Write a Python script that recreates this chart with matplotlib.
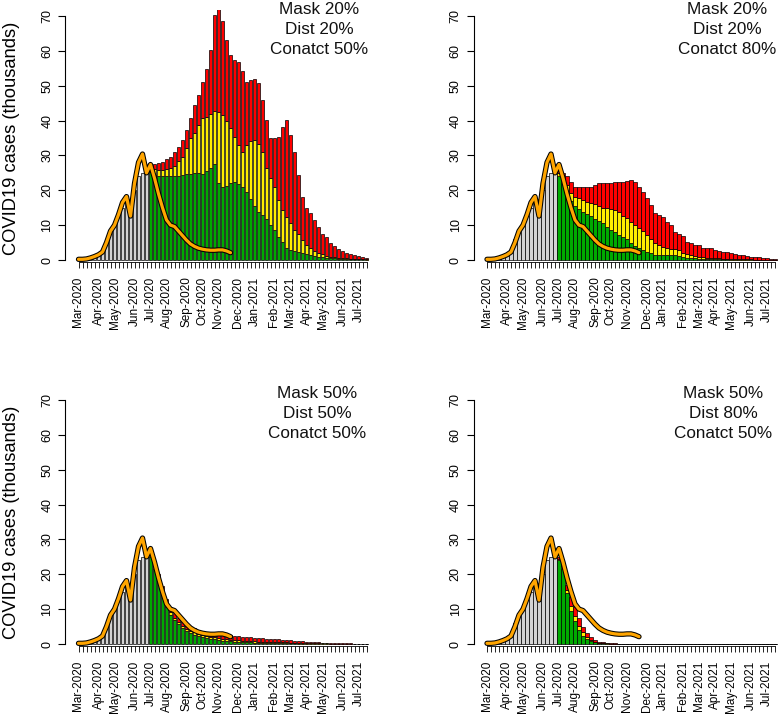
import matplotlib.pyplot as plt
import matplotlib.patheffects as pe
from matplotlib.patches import Rectangle
import pandas as pd

plt.rcParams['font.family'] = ['Liberation Sans', 'DejaVu Sans']

W, H = 778, 719

# weekly bars, Mar 2020 - Jul 2021
weeks = pd.date_range('2020-03-01', periods=73, freq='7D')
month_labels = ['Mar-2020', 'Apr-2020', 'May-2020', 'Jun-2020', 'Jul-2020', 'Aug-2020',
                'Sep-2020', 'Oct-2020', 'Nov-2020', 'Dec-2020', 'Jan-2021', 'Feb-2021',
                'Mar-2021', 'Apr-2021', 'May-2021', 'Jun-2021', 'Jul-2021']

# observed cases before the scenarios start (thousands)
observed = [0.1, 0.15, 0.2, 0.4, 0.8, 1.3, 2.5, 6.0, 8.0, 10.0, 12.5, 15.0, 16.5, 14.0,
            20.0, 24.0, 25.0, 25.0]

# orange line (reported cases)
reported = [0.2, 0.2, 0.3, 0.6, 1.0, 1.5, 2.3, 5.0, 8.3, 10.0, 13.0, 16.5, 18.2, 12.6,
            22.0, 28.0, 30.4, 25.0, 27.4, 23.5, 19.0, 15.0, 11.5, 10.0, 9.6, 8.3, 7.0,
            5.7, 4.6, 3.9, 3.4, 3.1, 2.9, 2.8, 2.8, 2.9, 2.9, 2.6, 2.1]

# scenario projections from Jul 2020: cumulative tops of green, yellow, red
tl_total = [27.5, 27.5, 27.8, 28.2, 28.9, 29.6, 31.0, 32.5, 34.4, 37.3, 40.6, 44.5, 47.4,
            51.0, 54.7, 60.2, 70.3, 71.9, 68.7, 63.1, 58.8, 57.4, 56.9, 54.3, 51.2, 51.6,
            51.9, 50.7, 45.9, 40.2, 34.9, 35.1, 35.4, 38.2, 40.3, 36.0, 31.0, 24.5, 18.0,
            15.0, 13.5, 11.5, 9.6, 7.5, 6.5, 4.8, 4.0, 3.2, 2.5, 2.0, 1.7, 1.4, 1.1, 0.9, 0.7]
tl_yellow = [26.3, 26.0, 25.8, 25.9, 26.1, 26.4, 26.9, 28.4, 29.6, 32.0, 34.9, 36.3, 38.7,
             40.6, 41.0, 42.0, 42.8, 42.5, 41.5, 40.0, 37.8, 35.2, 33.0, 31.0, 33.0, 34.0,
             34.4, 33.4, 31.0, 26.5, 23.4, 21.0, 17.2, 14.3, 12.4, 10.5, 8.6, 7.6, 5.7, 4.3,
             3.3, 2.7, 2.1, 1.6, 1.2, 0.95, 0.8, 0.65, 0.55, 0.45, 0.38, 0.32, 0.27, 0.22, 0.18]
tl_green = [25.3, 24.5, 24.0, 24.0, 24.0, 24.0, 24.0, 24.2, 24.4, 24.6, 24.8, 25.0, 25.0,
            24.8, 25.5, 26.5, 27.5, 22.0, 21.0, 21.3, 22.0, 22.4, 21.8, 20.8, 19.5, 17.5,
            15.5, 13.8, 12.8, 11.8, 10.0, 8.6, 6.7, 5.3, 3.3, 2.9, 2.7, 2.4, 1.9, 1.6, 1.3,
            1.1, 0.9, 0.75, 0.6, 0.5, 0.45, 0.4, 0.35, 0.3, 0.25, 0.2, 0.2, 0.15, 0.1]

tr_total = [25.5, 25.0, 24.0, 22.5, 21.0, 20.8, 20.8, 20.8, 21.0, 21.5, 22.0, 22.0, 22.0,
            22.2, 22.3, 22.3, 22.5, 22.8, 22.9, 22.5, 21.0, 19.6, 17.7, 15.8, 13.6, 12.9,
            12.4, 11.0, 10.0, 8.1, 7.6, 6.9, 5.3, 5.0, 4.3, 4.2, 3.3, 3.5, 3.5, 2.9, 2.5,
            2.2, 2.2, 1.9, 1.8, 1.5, 1.3, 1.2, 1.0, 0.9, 0.8, 0.6, 0.5, 0.4, 0.3]
tr_yellow = [25.0, 23.8, 21.5, 19.3, 18.2, 17.7, 17.2, 16.7, 16.4, 16.1, 15.4, 15.0, 14.8,
             14.6, 14.4, 13.9, 12.7, 12.0, 11.0, 10.0, 9.1, 8.2, 7.2, 6.0, 5.0, 4.3, 3.7,
             3.4, 3.2, 3.1, 2.8, 2.0, 1.8, 1.4, 1.1, 0.9, 0.8, 0.7, 0.6, 0.5, 0.45, 0.4,
             0.35, 0.3, 0.27, 0.24, 0.2, 0.18, 0.15, 0.13, 0.11, 0.1, 0.08, 0.07, 0.06]
tr_green = [24.0, 22.0, 19.5, 17.0, 15.5, 14.5, 13.9, 13.2, 12.6, 11.8, 11.2, 10.5, 9.5,
            8.7, 7.9, 7.2, 6.7, 5.9, 5.0, 4.0, 3.3, 2.9, 2.2, 1.9, 1.5, 1.4, 1.4, 1.4, 1.4,
            1.3, 1.2, 0.8, 0.7, 0.6, 0.5, 0.4, 0.35, 0.3, 0.27, 0.24, 0.2, 0.18, 0.15, 0.13,
            0.11, 0.1, 0.09, 0.08, 0.07, 0.06, 0.05, 0.05, 0.04, 0.04, 0.03]

bl_total = [26.5, 23.5, 20.0, 16.5, 13.0, 10.5, 8.8, 7.5, 6.5, 5.6, 5.0, 4.5, 4.1, 3.8,
            3.5, 3.3, 3.2, 3.1, 2.9, 2.7, 2.5, 2.3, 2.2, 2.1, 2.0, 1.9, 1.8, 1.7, 1.6, 1.5,
            1.4, 1.35, 1.3, 1.25, 1.2, 1.1, 1.0, 0.9, 0.8, 0.7, 0.6, 0.5, 0.45, 0.4, 0.35,
            0.3, 0.25, 0.22, 0.2, 0.17, 0.15, 0.12, 0.1, 0.08, 0.06]
bl_yellow = [25.6, 22.3, 18.4, 15.0, 11.5, 9.2, 7.6, 6.3, 5.3, 4.4, 3.8, 3.3, 2.9, 2.6,
             2.3, 2.1, 1.9, 1.7, 1.55, 1.4, 1.27, 1.15, 1.05, 0.97, 0.9, 0.83, 0.77, 0.71,
             0.66, 0.61, 0.57, 0.53, 0.5, 0.47, 0.44, 0.41, 0.38, 0.34, 0.31, 0.28, 0.25,
             0.21, 0.19, 0.17, 0.15, 0.13, 0.11, 0.1, 0.09, 0.08, 0.07, 0.06, 0.05, 0.04, 0.03]
bl_green = [25.0, 21.5, 17.5, 14.0, 10.5, 8.3, 6.8, 5.6, 4.6, 3.8, 3.2, 2.7, 2.3, 2.0,
            1.7, 1.5, 1.3, 1.1, 1.0, 0.9, 0.8, 0.7, 0.6, 0.55, 0.5, 0.45, 0.4, 0.36, 0.33,
            0.3, 0.27, 0.25, 0.23, 0.21, 0.19, 0.17, 0.15, 0.13, 0.12, 0.1, 0.09, 0.08,
            0.07, 0.06, 0.05, 0.05, 0.04, 0.04, 0.03, 0.03, 0.03, 0.02, 0.02, 0.02, 0.01]

br_total = [25.0, 23.0, 17.0, 13.5, 10.5, 7.5, 5.0, 3.2, 2.0, 1.2, 0.7, 0.45, 0.3, 0.2,
            0.15, 0.1, 0.09, 0.08, 0.08, 0.07, 0.07, 0.06, 0.06, 0.05, 0.05, 0.05, 0.04,
            0.04, 0.04, 0.04, 0.03, 0.03, 0.03, 0.03, 0.03, 0.03, 0.03, 0.03, 0.03, 0.02,
            0.02, 0.02, 0.02, 0.02, 0.02, 0.02, 0.02, 0.01, 0.01, 0.01, 0.01, 0.01, 0.01,
            0.01, 0.01]
br_yellow = [24.5, 22.3, 15.5, 11.0, 8.0, 5.2, 3.3, 2.0, 1.2, 0.7, 0.4, 0.25, 0.17, 0.12,
             0.09, 0.06, 0.05, 0.05, 0.05, 0.04, 0.04, 0.04, 0.04, 0.03, 0.03, 0.03, 0.03,
             0.03, 0.02, 0.02, 0.02, 0.02, 0.02, 0.02, 0.02, 0.02, 0.02, 0.02, 0.02, 0.01,
             0.01, 0.01, 0.01, 0.01, 0.01, 0.01, 0.01, 0.01, 0.01, 0.01, 0.01, 0.01, 0.01,
             0.01, 0.01]
br_green = [24.0, 21.5, 14.5, 9.5, 6.5, 4.0, 2.4, 1.4, 0.8, 0.45, 0.25, 0.15, 0.1, 0.07,
            0.05, 0.03, 0.03, 0.03, 0.03, 0.02, 0.02, 0.02, 0.02, 0.02, 0.02, 0.02, 0.02,
            0.02, 0.01, 0.01, 0.01, 0.01, 0.01, 0.01, 0.01, 0.01, 0.01, 0.01, 0.01, 0.01,
            0.0, 0.0, 0.0, 0.0, 0.0, 0.0, 0.0, 0.0, 0.0, 0.0, 0.0, 0.0, 0.0, 0.0, 0.0]

panels = [
    (['Mask 20%', 'Dist 20%', 'Conatct 50%'], tl_green, tl_yellow, tl_total),
    (['Mask 20%', 'Dist 20%', 'Conatct 80%'], tr_green, tr_yellow, tr_total),
    (['Mask 50%', 'Dist 50%', 'Conatct 50%'], bl_green, bl_yellow, bl_total),
    (['Mask 50%', 'Dist 80%', 'Conatct 50%'], br_green, br_yellow, br_total),
]

GRAY, GREEN, YELLOW, RED = '#d3d3d3', '#00aa00', '#ffee00', '#ff0000'

# pixel layout (left axis line, first bar centre, right edge, y of zero, text centre x)
layout = [
    (65, 78.5, 372, 260, 319),
    (473.5, 487, 778, 260, 727),
    (65, 78.5, 372, 644, 317),
    (473.5, 487, 778, 644, 723),
]
ppu = 244 / 70.0
pitch = 4.0

weeks_lab = list(weeks.strftime('%b-%Y'))
month_pos = [weeks_lab.index(m) for m in month_labels]
start = len(observed)
idx_all = list(range(len(weeks)))
idx_proj = list(range(start, len(weeks)))

fig = plt.figure(figsize=(W / 100, H / 100), dpi=100)

for i, ((lines, green, yellow, total), (ax_x, c0, right, y0, tx)) in enumerate(zip(panels, layout)):
    top_px = y0 - 250
    bot_px = y0 + 1.5
    ax = fig.add_axes([ax_x / W, 1 - bot_px / H, (right - ax_x) / W, (bot_px - top_px) / H])
    ax.set_xlim((ax_x - c0) / pitch, (right - c0) / pitch)
    ax.set_ylim(-1.5 / ppu, 250 / ppu)
    ax.patch.set_alpha(0)

    kw = dict(width=0.8, edgecolor='black', linewidth=0.5)
    ax.bar(range(start), observed, color=GRAY, **kw)
    yel = [a - b for a, b in zip(yellow, green)]
    red = [a - b for a, b in zip(total, yellow)]
    ax.bar(idx_proj, green, color=GREEN, **kw)
    ax.bar(idx_proj, yel, bottom=green, color=YELLOW, **kw)
    ax.bar(idx_proj, red, bottom=yellow, color=RED, **kw)

    ax.plot(range(len(reported)), reported, color='#ffa500', lw=2.3, zorder=5,
            solid_joinstyle='round', solid_capstyle='round',
            path_effects=[pe.Stroke(linewidth=3.8, foreground='black'), pe.Normal()])

    for s in ['top', 'right']:
        ax.spines[s].set_visible(False)
    ax.spines['left'].set_bounds(0, 70)
    ax.spines['bottom'].set_bounds(0, len(weeks) - 1)
    ax.spines['left'].set_linewidth(0.8)
    ax.spines['bottom'].set_linewidth(0.6)

    ax.set_yticks(range(0, 71, 10))
    ax.tick_params(axis='y', direction='out', length=5, width=0.8, pad=3.5,
                   labelsize=9, labelrotation=90)
    for lab in ax.get_yticklabels():
        lab.set_va('center')
    ax.set_xticks(idx_all)
    ax.set_xticklabels([month_labels[month_pos.index(k)] if k in month_pos else ''
                        for k in idx_all], rotation=90, va='top', ha='center')
    ax.tick_params(axis='x', direction='out', length=4.3, width=0.6, pad=6.5, labelsize=8.5)

    for j, t in enumerate(lines):
        fig.text(tx / W, 1 - (9 + 20.5 * j + (y0 - 260)) / H, t, ha='center', va='center',
                 fontsize=12.3, color='#111111')

    if i % 2 == 0:
        fig.text(12 / W, 1 - (y0 - 122) / H, 'COVID19 cases (thousands)', rotation=90,
                 ha='center', va='center', fontsize=13.2)

# right-hand panels are cropped at their left edge in the original
fig.add_artist(Rectangle((374 / W, 0), (446 - 374) / W, 1, transform=fig.transFigure,
                         facecolor='white', edgecolor='none', zorder=10))

fig.savefig('out.png', dpi=100)
